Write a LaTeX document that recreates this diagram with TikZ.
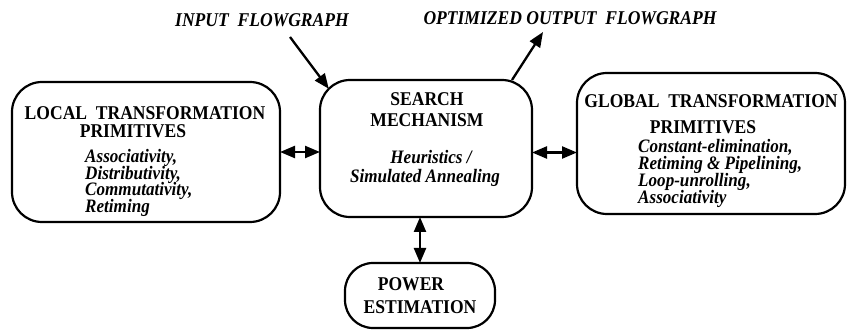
\documentclass[tikz,border=0pt]{standalone}
\usepackage{fontspec}
\setmainfont{Liberation Serif}
\newfontfamily\diafont[FakeStretch=0.9]{Liberation Serif}
\newcommand\tightlines{\setlength{\lineskiplimit}{-20pt}}
\usetikzlibrary{arrows.meta,calc}
\tikzset{
  box/.style={draw,line width=2.2pt,rounded corners=30pt,inner sep=0pt,outer sep=0pt},
  head/.style={font=\diafont\fontsize{19.5pt}{18pt}\selectfont\tightlines\bfseries,align=center,inner sep=0pt,anchor=north},
  items/.style={font=\diafont\fontsize{19pt}{16.8pt}\selectfont\tightlines\bfseries\itshape,inner sep=0pt},
  flowlabel/.style={font=\diafont\fontsize{19.5pt}{18pt}\selectfont\bfseries\itshape,inner sep=0pt,anchor=north},
  link/.style={line width=2.3pt,{Triangle[length=15pt,width=12pt]}-{Triangle[length=15pt,width=12pt]}},
  flow/.style={line width=2.3pt,-{Triangle[length=15pt,width=12pt]}}
}
\begin{document}
\begin{tikzpicture}[x=1pt,y=-1pt]
  \useasboundingbox (0,0) rectangle (847,331);
  % Boxes
  \node[box,minimum width=268pt,minimum height=140pt] (local) at (146,152) {};
  \node[box,minimum width=212pt,minimum height=137pt] (search) at (426,148.5) {};
  \node[box,minimum width=268pt,minimum height=141pt] (global) at (711,143.5) {};
  \node[box,rounded corners=28pt,minimum width=150pt,minimum height=65pt] (power) at (420,295.5) {};
  % Box texts
  \node[head] (localhead) at (145,106) {LOCAL~~TRANSFORMATION\\\hspace*{-24pt}PRIMITIVES};
  \node[items,align=left,anchor=north west] (localitems) at (85,149)
    {Associativity,\\Distributivity,\\Commutativity,\\Retiming};
  \node[head] (searchhead) at (427,92) {SEARCH\\[3.5pt]MECHANISM};
  \node[items,align=center,anchor=north] (searchitems) at (425,150)
    {\hspace*{12pt}Heuristics /\\[2pt]Simulated Annealing};
  \node[head] (globalhead) at (711,94) {GLOBAL~~TRANSFORMATION\\[8pt]\hspace*{-16pt}PRIMITIVES};
  \node[items,align=left,anchor=north west] (globalitems) at (638,139.5)
    {Constant-elimination,\\Retiming \& Pipelining,\\Loop-unrolling,\\Associativity};
  \node[head] (powerhead) at (420,277) {\hspace*{-18pt}POWER\\[5pt]ESTIMATION};
  % Flowgraph labels
  \node[flowlabel] (inlabel) at (262,13) {INPUT~~FLOWGRAPH};
  \node[flowlabel] (outlabel) at (570,11.5) {OPTIMIZED OUTPUT~~FLOWGRAPH};
  \coordinate (inbeg) at (290,37);
  \coordinate (outend) at (543,32);
  % Links
  \draw[link] (local.east) -- (local.east -| search.west);
  \draw[link] ([yshift=-4pt]search.east) -- ([yshift=-4pt]search.east -| global.west);
  \draw[link] (power.north) -- (power.north |- search.south);
  \draw[flow] (inbeg) -- ($(search.north west)+(8.8,8.8)$);
  \draw[flow] ($(search.north east)+(-20,0)$) -- (outend);
\end{tikzpicture}
\end{document}
